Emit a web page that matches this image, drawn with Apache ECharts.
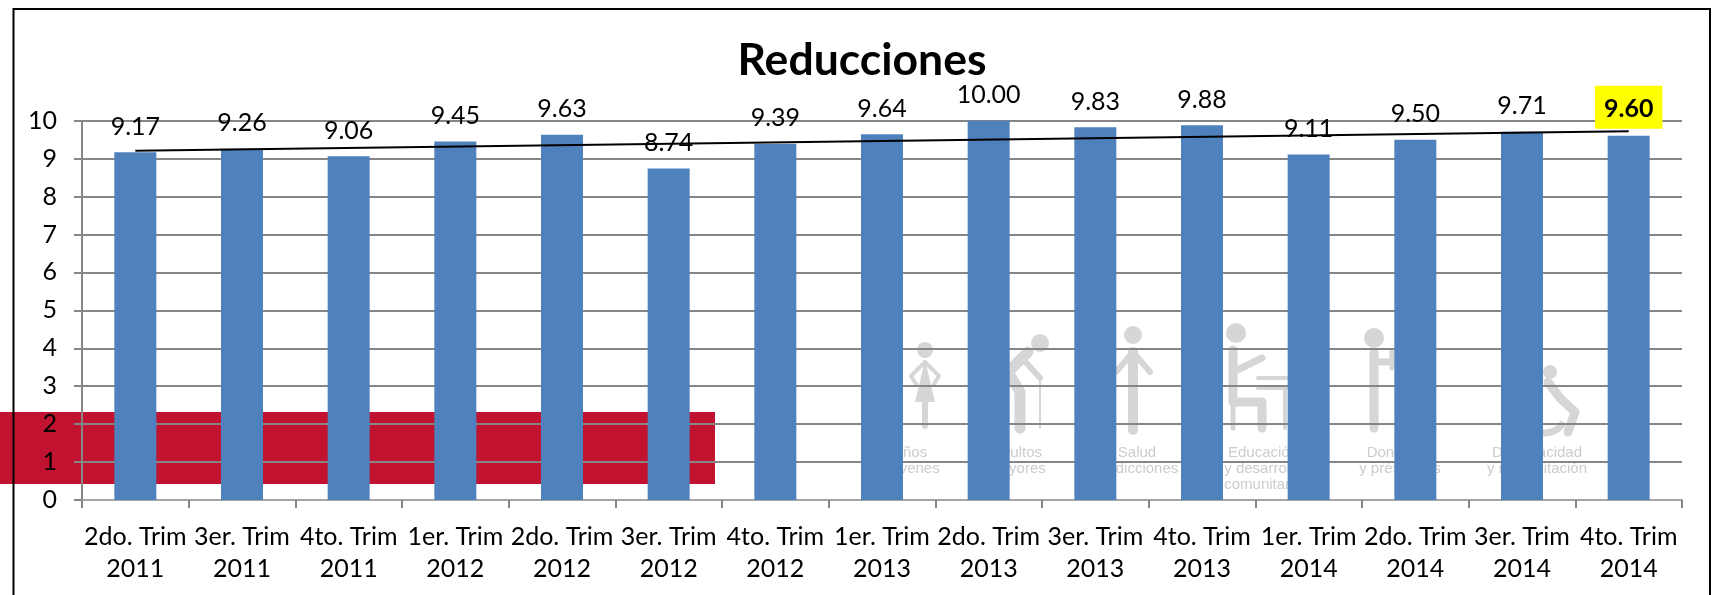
<!DOCTYPE html>
<html><head><meta charset="utf-8">
<style>html,body{margin:0;padding:0;background:#fff}#c{width:1714px;height:595px}</style>
<script src="https://cdn.jsdelivr.net/npm/echarts@6/dist/echarts.min.js"></script>
</head><body><div id="c"></div>
<script>
const categories = ["2do. Trim\n2011","3er. Trim\n2011","4to. Trim\n2011","1er. Trim\n2012","2do. Trim\n2012","3er. Trim\n2012","4to. Trim\n2012","1er. Trim\n2013","2do. Trim\n2013","3er. Trim\n2013","4to. Trim\n2013","1er. Trim\n2014","2do. Trim\n2014","3er. Trim\n2014","4to. Trim\n2014"];
const values = [9.17,9.26,9.06,9.45,9.63,8.74,9.39,9.64,10.00,9.83,9.88,9.11,9.50,9.71,9.60];
const trend = [9.21,null,null,null,null,null,null,null,null,null,null,null,null,null,9.72];
const title = "Reducciones";
const FONT = "Lato";
const GREY = "#d6d6d6", TXT = "#cccccc";
const wmTexts = [
  ["Niños\ny jóvenes",908],["Adultos\nmayores",1017],["Salud\ny adicciones",1137],
  ["Educación\ny desarrollo\ncomunitario",1263],["Donativos\ny préstamos",1400],["Discapacidad\ny rehabilitación",1537]
];
const circ=(x,y,r)=>({type:'circle',z:-1,shape:{cx:x,cy:y,r},style:{fill:GREY}});
const ln=(pts,w)=>({type:'polyline',z:-1,shape:{points:pts},style:{stroke:GREY,lineWidth:w,fill:null,lineCap:'round',lineJoin:'round'}});
const icons = [
  circ(925,350,8), ln([[925,362],[911,376],[916,384]],4), ln([[925,362],[939,376],[934,384]],4),
  {type:'polygon',z:-1,shape:{points:[[925,360],[935,402],[915,402]]},style:{fill:GREY}}, ln([[925,400],[925,426]],6),
  circ(1040,343,9), ln([[1028,352],[1008,372],[1020,392],[1020,428]],11), ln([[1022,358],[1040,378]],6), ln([[1040,378],[1040,428]],2),
  circ(1133,335,9), ln([[1133,352],[1133,430]],10), ln([[1133,352],[1116,372]],6), ln([[1133,352],[1150,372]],6),
  circ(1236,333,10), ln([[1233,350],[1233,402],[1262,402],[1262,428]],9), ln([[1233,372],[1262,358]],7), ln([[1258,378],[1288,378]],4), ln([[1258,388],[1288,388]],4), ln([[1233,402],[1233,428]],5), ln([[1285,388],[1285,428]],4),
  circ(1374,338,10), ln([[1374,352],[1374,428]],9), ln([[1374,362],[1392,362]],7), ln([[1392,352],[1392,368]],5),
  circ(1550,372,7), ln([[1548,382],[1560,398],[1575,412],[1568,432]],9),
  {type:'arc',z:-1,shape:{cx:1545,cy:412,r:21,startAngle:0.5,endAngle:3.6},style:{stroke:GREY,lineWidth:7,fill:null}}
];
const chart = echarts.init(document.getElementById('c'));
chart.setOption({
  animation:false,
  backgroundColor:'#fff',
  title:{text:title,left:857,top:33,textAlign:'center',textStyle:{fontFamily:FONT,fontWeight:'bold',fontSize:44.5,color:'#000'}},
  grid:{left:82,right:32,top:120.7,bottom:95,containLabel:false},
  xAxis:{type:'category',data:categories,
    axisLine:{lineStyle:{color:'#a6a6a6',width:2}},
    axisTick:{show:true,alignWithLabel:false,length:8,lineStyle:{color:'#868686',width:2}},
    axisLabel:{interval:0,hideOverlap:false,fontFamily:FONT,fontSize:25,color:'#000',lineHeight:32,margin:21}},
  yAxis:{type:'value',min:0,max:10,interval:1,
    axisLine:{show:true,lineStyle:{color:'#868686',width:2}},
    axisTick:{show:true,length:8,lineStyle:{color:'#868686',width:2}},
    splitLine:{lineStyle:{color:'#868686',width:2}},
    axisLabel:{fontFamily:FONT,fontSize:25,color:'#000',margin:25}},
  series:[
    {type:'bar',data:values.map((v,i)=>i===values.length-1?{value:v,label:{fontWeight:'bold',backgroundColor:'#ffff00',padding:[11,9,7,9],distance:7}}:v),
     barWidth:42,itemStyle:{color:'#4f81bd'},
     label:{show:true,position:'top',distance:13,fontFamily:FONT,fontSize:25,color:'#000',formatter:p=>p.value.toFixed(2)},z:2},
    {type:'line',data:trend,connectNulls:true,symbol:'none',lineStyle:{color:'#000',width:2},z:3}
  ],
  graphic:{elements:[
    {type:'rect',z:-2,shape:{x:0,y:412,width:715,height:72},style:{fill:'#c1132f'}},
    ...icons,
    ...wmTexts.map(t=>({type:'text',z:-1,x:t[1],y:445,style:{text:t[0],textAlign:'center',fill:TXT,font:'15px "Liberation Sans"',lineHeight:16}})),
    {type:'polyline',z:20,shape:{points:[[13.5,600],[13.5,9],[1710,9],[1710,600]]},style:{stroke:'#000',lineWidth:2,fill:null}}
  ]}
});
</script></body></html>
